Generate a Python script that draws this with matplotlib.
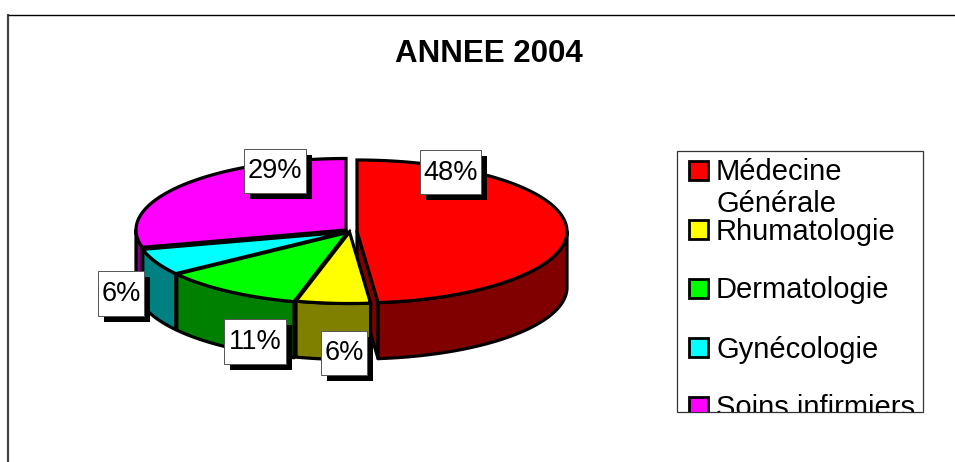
import numpy as np
import matplotlib
matplotlib.use("Agg")
import matplotlib.pyplot as plt
from matplotlib.patches import Polygon, Rectangle

plt.rcParams['font.family'] = ['Liberation Sans', 'DejaVu Sans']

title = "ANNEE 2004"
categories = ["Médecine\nGénérale", "Rhumatologie", "Dermatologie", "Gynécologie", "Soins infirmiers"]
values = [48.4, 5.7, 11.0, 6.0, 28.9]
top_colors = ["#ff0000", "#ffff00", "#00ff00", "#00ffff", "#ff00ff"]
side_colors = ["#800000", "#808000", "#008000", "#008080", "#800080"]

# layout (pixels)
centers = [(357, 231.5), (349.5, 232), (347.5, 232.5), (346.5, 232), (346, 230)]
rx, ry, depth = 210, 71.5, 56
label_boxes = [(420, 150, 61, 44), (321, 331, 46, 44), (224, 319, 62, 45), (98, 271, 46, 45), (244, 149, 62, 44)]
legend_key_y = [160, 219, 278, 337, 396]
legend_box = (676.5, 151, 246.5, 260.5)

fig = plt.figure(figsize=(9.55, 4.62), dpi=100)
ax = fig.add_axes([0, 0, 1, 1])
ax.set_xlim(0, 955)
ax.set_ylim(462, 0)
ax.axis("off")

# frame
ax.plot([8, 8], [14, 462], color="#444444", lw=1.6, solid_capstyle="butt")
ax.plot([8, 955], [14.5, 14.5], color="black", lw=1.0, solid_capstyle="butt")

ax.text(488.5, 53.5, title, ha="center", va="center", fontsize=22.5, fontweight="bold", color="black")

ends = np.cumsum(values) / np.sum(values) * 360
starts = np.concatenate([[0], ends[:-1]])


def pt(c, a, dz=0.0):
    r = np.radians(a)
    return np.column_stack([c[0] + rx * np.sin(r), c[1] - ry * np.cos(r) + dz])


def draw_slice(i):
    c, a0, a1 = centers[i], starts[i], ends[i]
    lw = 2.3
    # cut faces
    for a in (a0, a1):
        e = pt(c, a)[0]
        face = [c, e, (e[0], e[1] + depth), (c[0], c[1] + depth)]
        if (a == a1 and a1 < 180) or (a == a0 and a0 > 180):
            ax.add_patch(Polygon(face, closed=True, fc=side_colors[i], ec="black", lw=lw, joinstyle="round"))
    # outer wall
    lo, hi = max(a0, 90), min(a1, 270)
    if hi > lo:
        arc = np.linspace(lo, hi, 100)
        wall = np.vstack([pt(c, arc), pt(c, arc[::-1], depth)])
        ax.add_patch(Polygon(wall, closed=True, fc=side_colors[i], ec="black", lw=lw, joinstyle="round"))
    # top
    arc = np.linspace(a0, a1, 200)
    top = np.vstack([[c], pt(c, arc)])
    ax.add_patch(Polygon(top, closed=True, fc=top_colors[i], ec="black", lw=lw, joinstyle="miter"))


for i in [4, 0, 3, 2, 1]:
    draw_slice(i)

# data labels
for v, (x, y, w, h) in zip(values, label_boxes):
    ax.add_patch(Rectangle((x + 6, y + 6), w, h, fc="black", ec="none", zorder=5))
    ax.add_patch(Rectangle((x, y), w, h, fc="white", ec="#555555", lw=0.7, zorder=6))
    ax.text(x + w / 2, y + h / 2 + 0.5, f"{round(v)}%", ha="center", va="center", fontsize=19.6, color="black", zorder=7)

# legend
lx, ly, lw_, lh = legend_box
frame = Rectangle((lx, ly), lw_, lh, fc="white", ec="#333333", lw=0.9, zorder=8)
ax.add_patch(frame)
clip = Rectangle((lx, ly), lw_, lh, transform=ax.transData)
for name, color, ky in zip(categories, top_colors, legend_key_y):
    key = Rectangle((689, ky + 0.5), 19, 19, fc=color, ec="black", lw=2.0, zorder=9)
    ax.add_patch(key)
    key.set_clip_path(clip)
    for j, part in enumerate(name.split("\n")):
        t = ax.text(716, ky + 12.5 + j * 32, part, ha="left", va="center", fontsize=21, color="black", zorder=10, clip_on=True)
        t.set_clip_path(clip)

fig.savefig("out.png", dpi=100, facecolor="white")
